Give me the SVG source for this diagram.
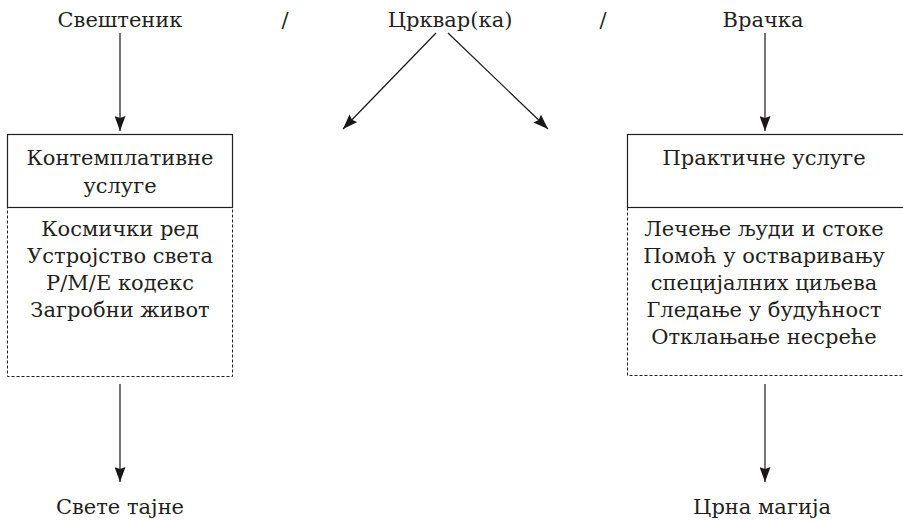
<svg xmlns="http://www.w3.org/2000/svg" width="903" height="522" viewBox="0 0 903 522">
<defs>
<marker id="ah" markerWidth="15" markerHeight="11" refX="15" refY="5.5" orient="auto" markerUnits="userSpaceOnUse" viewBox="0 0 15 11">
<path d="M0,0 L15,5.5 L0,11 L2,5.5 z" fill="#1a1718"/>
</marker>
<style>
text{font-family:'DejaVu Serif',serif;font-size:21px;fill:#231f20;text-anchor:middle}
.solid{fill:none;stroke:#231f20;stroke-width:1.2}
.dash{fill:none;stroke:#231f20;stroke-width:1;stroke-dasharray:3,2}
.conn{stroke:#1a1718;stroke-width:1.2;fill:none;marker-end:url(#ah)}
</style>
</defs>
<rect width="903" height="522" fill="#fff"/>
<g id="top">
<text x="120" y="27">Свештеник</text>
<text x="285" y="27">/</text>
<text x="450" y="27">Црквар(ка)</text>
<text x="603" y="27">/</text>
<text x="763" y="27">Врачка</text>
</g>
<g id="left-box">
<rect class="dash" x="7.5" y="134.5" width="225" height="242"/>
<rect class="solid" x="7.5" y="134.5" width="225" height="73"/>
<text x="120" y="165">Контемплативне</text>
<text x="120" y="193">услуге</text>
<text x="120" y="236">Космички ред</text>
<text x="120" y="263">Устројство света</text>
<text x="120" y="290">Р/М/Е кодекс</text>
<text x="120" y="317">Загробни живот</text>
</g>
<g id="right-box">
<rect class="dash" x="627.5" y="134.5" width="277" height="241"/>
<rect class="solid" x="627.5" y="134.5" width="277" height="73"/>
<text x="764" y="165">Практичне услуге</text>
<text x="764" y="236">Лечење људи и стоке</text>
<text x="764" y="263">Помоћ у остваривању</text>
<text x="764" y="290">специјалних циљева</text>
<text x="764" y="317">Гледање у будућност</text>
<text x="764" y="344">Отклањање несреће</text>
</g>
<g id="bottom">
<text x="120" y="514">Свете тајне</text>
<text x="762" y="514">Црна магија</text>
</g>
<g id="connectors">
<line class="conn" x1="120" y1="33" x2="120" y2="131"/>
<line class="conn" x1="765" y1="33" x2="765" y2="131"/>
<line class="conn" x1="436" y1="33" x2="343" y2="129"/>
<line class="conn" x1="448" y1="33" x2="548" y2="129"/>
<line class="conn" x1="120" y1="384" x2="120" y2="482"/>
<line class="conn" x1="765" y1="384" x2="765" y2="482"/>
</g>
</svg>
